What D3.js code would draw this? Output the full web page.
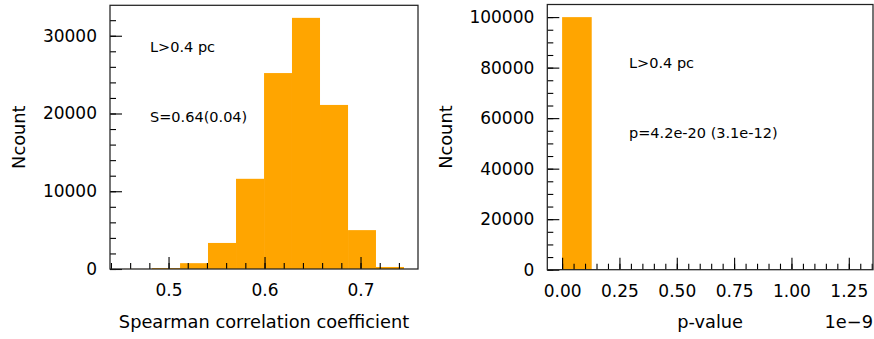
<!DOCTYPE html>
<html>
<head>
<meta charset="utf-8">
<script src="https://cdn.jsdelivr.net/npm/d3@7"></script>
<style>
  body { margin: 0; background: #fff; }
  svg { display: block; font-family: "DejaVu Sans", sans-serif; }
</style>
</head>
<body>
<svg id="fig" width="874" height="339"></svg>
<script>
// histogram of the Spearman coefficient (bin edges + counts)
var rhoEdges = [0.4536, 0.4828, 0.5120, 0.5411, 0.5703, 0.5995, 0.6286, 0.6578, 0.6870, 0.7161, 0.7453];
var rhoCounts = [10, 120, 750, 3350, 11600, 25200, 32300, 21100, 5000, 260];
var rhoTicks = [0.5, 0.6, 0.7];
var rhoYTicks = [0, 10000, 20000, 30000];

// histogram of the p-value, x in units of 1e-9
var pEdges = [0, 0.1291, 0.2582, 0.3873, 0.5164, 0.6455, 0.7746, 0.9037, 1.0328, 1.1619, 1.2910];
var pCounts = [99990, 5, 1, 1, 0, 0, 1, 0, 0, 2];
var pTicks = [0, 0.25, 0.5, 0.75, 1.0, 1.25];
var pYTicks = [0, 20000, 40000, 60000, 80000, 100000];

var svg = d3.select("#fig");

// d3 axis puts its own font attrs on the group, override them
function styleAxis(a) {
    a.attr("font-family", null).attr("font-size", null);
    a.select(".domain").remove();
    a.selectAll(".tick line")
        .style("stroke", "#000")
        .style("stroke-width", 1.1);
    a.selectAll(".tick text")
        .style("font-family", "'DejaVu Sans', sans-serif")
        .style("font-size", "17px")
        .style("fill", "#000");
}

// draws one panel
function panel(opt) {
    var lo = opt.edges[0], hi = opt.edges[opt.edges.length - 1];
    var pad = (hi - lo) * 0.05;

    var x = d3.scaleLinear()
              .domain([lo - pad, hi + pad])
              .range([opt.left, opt.right]);
    var y = d3.scaleLinear()
              .domain([0, d3.max(opt.counts) * 1.05])
              .range([opt.bottom, opt.top]);

    var g = svg.append("g");

    // bars
    g.selectAll("rect.bar")
        .data(opt.counts)
        .enter()
        .append("rect")
            .attr("class", "bar")
            .attr("x", function(d, i) { return x(opt.edges[i]); })
            .attr("width", function(d, i) { return x(opt.edges[i + 1]) - x(opt.edges[i]); })
            .attr("y", function(d) { return y(d); })
            .attr("height", function(d) { return y(0) - y(d); })
            .style("fill", "#ffa500");

    // minor ticks
    g.append("g")
        .attr("transform", "translate(0," + opt.bottom + ")")
        .call(d3.axisBottom(x).tickValues(opt.xMinor).tickSize(-6).tickFormat(""))
        .call(styleAxis);
    g.append("g")
        .attr("transform", "translate(" + opt.left + ",0)")
        .call(d3.axisLeft(y).tickValues(opt.yMinor).tickSize(-6).tickFormat(""))
        .call(styleAxis);

    // major ticks
    g.append("g")
        .attr("transform", "translate(0," + opt.bottom + ")")
        .call(d3.axisBottom(x).tickValues(opt.xTicks).tickSize(-12).tickPadding(15).tickFormat(opt.xFormat))
        .call(styleAxis);
    g.append("g")
        .attr("transform", "translate(" + opt.left + ",0)")
        .call(d3.axisLeft(y).tickValues(opt.yTicks).tickSize(-12).tickPadding(13).tickFormat(d3.format("d")))
        .call(styleAxis);

    // frame
    g.append("rect")
        .attr("x", opt.left)
        .attr("y", opt.top)
        .attr("width", opt.right - opt.left)
        .attr("height", opt.bottom - opt.top)
        .style("fill", "none")
        .style("stroke", "#222")
        .style("stroke-width", 1.25);

    // labels
    g.append("text")
        .attr("x", (opt.left + opt.right) / 2)
        .attr("y", 328)
        .attr("text-anchor", "middle")
        .style("font-size", "17.8px")
        .text(opt.xLabel);
    g.append("text")
        .attr("transform", "translate(" + opt.yLabelX + "," + (opt.top + opt.bottom) / 2 + ") rotate(-90)")
        .attr("text-anchor", "middle")
        .attr("dy", "0.35em")
        .style("font-size", "17.8px")
        .text("Ncount");

    opt.notes.forEach(function(n) {
        g.append("text")
            .attr("x", n.x)
            .attr("y", n.y)
            .style("font-size", "14.5px")
            .text(n.text);
    });

    return g;
}

panel({
    edges: rhoEdges, counts: rhoCounts,
    left: 110, right: 418, top: 5.3, bottom: 269,
    xTicks: rhoTicks, xMinor: d3.range(0.44, 0.76, 0.02),
    yTicks: rhoYTicks, yMinor: d3.range(0, 34000, 2000),
    xFormat: d3.format(".1f"),
    xLabel: "Spearman correlation coefficient",
    yLabelX: 19,
    notes: [{x: 150, y: 52, text: "L>0.4 pc"}, {x: 150, y: 122, text: "S=0.64(0.04)"}]
});

var right = panel({
    edges: pEdges, counts: pCounts,
    left: 547.3, right: 873, top: 4.5, bottom: 269.7,
    xTicks: pTicks, xMinor: d3.range(0, 1.36, 0.05),
    yTicks: pYTicks, yMinor: d3.range(0, 105000, 5000),
    xFormat: d3.format(".2f"),
    xLabel: "p-value",
    yLabelX: 446,
    notes: [{x: 629, y: 68, text: "L>0.4 pc"}, {x: 629, y: 138, text: "p=4.2e-20 (3.1e-12)"}]
});

right.append("text")
    .attr("x", 873)
    .attr("y", 328)
    .attr("text-anchor", "end")
    .style("font-size", "17.8px")
    .text("1e\u22129");
</script>
</body>
</html>
